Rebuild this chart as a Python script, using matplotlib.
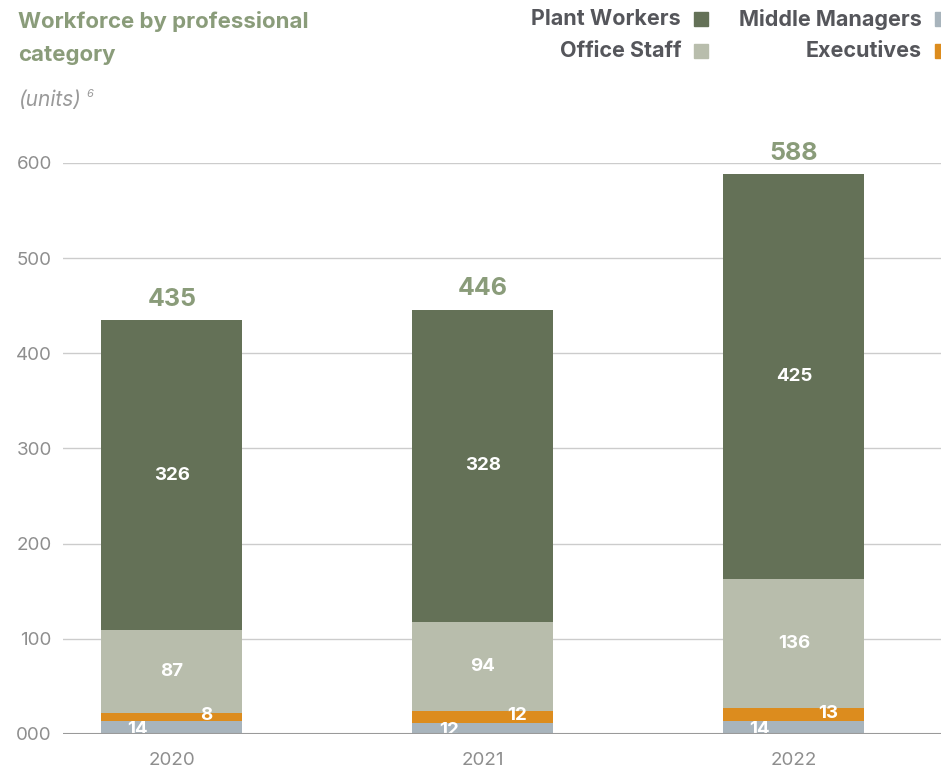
import numpy as np
import matplotlib.pyplot as plt
from matplotlib.patches import Rectangle

# ==========================================
# Data
# ==========================================

years = ["2020", "2021", "2022"]

middle_managers = [14, 12, 14]
executives = [8, 12, 13]
office_staff = [87, 94, 136]
plant_workers = [326, 328, 425]

totals = [435, 446, 588]

y_ticks = [0, 100, 200, 300, 400, 500, 600]
y_tick_labels = ["000", "100", "200", "300", "400", "500", "600"]

# ==========================================
# Style
# ==========================================

plt.rcParams["font.family"] = ["Inter", "DejaVu Sans"]

c_plant = "#647157"
c_office = "#b8bdac"
c_middle = "#a8b4bc"
c_exec = "#dc8c1e"
c_title = "#8a9c7a"
c_legend = "#55565b"
c_tick = "#8e8e8e"

fig = plt.figure(figsize=(9.41, 7.75), dpi=100)
W, H = 941, 775

ax = fig.add_axes([63 / W, 1 - 734 / H, (941 - 63) / W, (734 - 163) / H])

x = np.arange(len(years))
width = 0.453

# ==========================================
# Bars
# ==========================================

bottom = np.zeros(len(years))
for vals, col in [
    (middle_managers, c_middle),
    (executives, c_exec),
    (office_staff, c_office),
    (plant_workers, c_plant),
]:
    ax.bar(x, vals, width, bottom=bottom, color=col, zorder=3)
    bottom = bottom + np.array(vals)

# segment labels
for i in range(len(years)):
    ax.text(x[i] - 0.11, middle_managers[i] / 2 - 2.5, str(middle_managers[i]),
            ha="center", va="center", color="white", fontsize=13.5,
            fontweight="bold", zorder=4)
    ax.text(x[i] + 0.11, middle_managers[i] + executives[i] / 2 + 1,
            str(executives[i]), ha="center", va="center", color="white",
            fontsize=13.5, fontweight="bold", zorder=4)
    base = middle_managers[i] + executives[i]
    ax.text(x[i], base + office_staff[i] / 2, str(office_staff[i]),
            ha="center", va="center", color="white", fontsize=13.5,
            fontweight="bold", zorder=4)
    base += office_staff[i]
    ax.text(x[i], base + plant_workers[i] / 2, str(plant_workers[i]),
            ha="center", va="center", color="white", fontsize=13.5,
            fontweight="bold", zorder=4)
    ax.text(x[i], totals[i] + 10, str(totals[i]), ha="center", va="bottom",
            color=c_title, fontsize=18, fontweight="bold", zorder=4)

# ==========================================
# Axes
# ==========================================

ax.set_xlim(-0.35, 2.473)
ax.set_ylim(0, 600)
ax.set_yticks(y_ticks)
ax.set_yticklabels(y_tick_labels, color=c_tick, fontsize=13.5)
ax.set_xticks(x)
ax.set_xticklabels(years, color=c_tick, fontsize=13.5)
ax.tick_params(axis="both", length=0)
ax.tick_params(axis="y", pad=8)
ax.tick_params(axis="x", pad=13)

for s in ax.spines.values():
    s.set_visible(False)

ax.grid(axis="y", color="#cccccc", linewidth=1, zorder=0)
ax.axhline(0, color="#9a9a9a", linewidth=1.5, zorder=5)

# ==========================================
# Title
# ==========================================

fig.text(18 / W, 1 - 22 / H, "Workforce by professional", color=c_title,
         fontsize=16, fontweight="bold", va="center", ha="left")
fig.text(18 / W, 1 - 55 / H, "category", color=c_title,
         fontsize=16, fontweight="bold", va="center", ha="left")
fig.text(18 / W, 1 - 100 / H, "(units)", color="#9a9a9a", fontsize=15,
         style="italic", va="center", ha="left")
fig.text(87 / W, 1 - 94 / H, "6", color="#9a9a9a", fontsize=8,
         style="italic", va="center", ha="left")

# ==========================================
# Legend
# ==========================================

legend_items = [
    ("Plant Workers", c_plant, 681, 19, 14),
    ("Middle Managers", c_middle, 922, 19, 6),
    ("Office Staff", c_office, 681, 51, 14),
    ("Executives", c_exec, 922, 51, 6),
]

for label, col, xr, yc, sw in legend_items:
    fig.text(xr / W, 1 - yc / H, label, color=c_legend, fontsize=15.5,
             fontweight="bold", ha="right", va="center")
    fig.patches.append(Rectangle(((xr + 13) / W, 1 - (yc + 7) / H),
                                 sw / W, 14 / H, color=col,
                                 transform=fig.transFigure, figure=fig))

fig.savefig("out.png", dpi=100)
